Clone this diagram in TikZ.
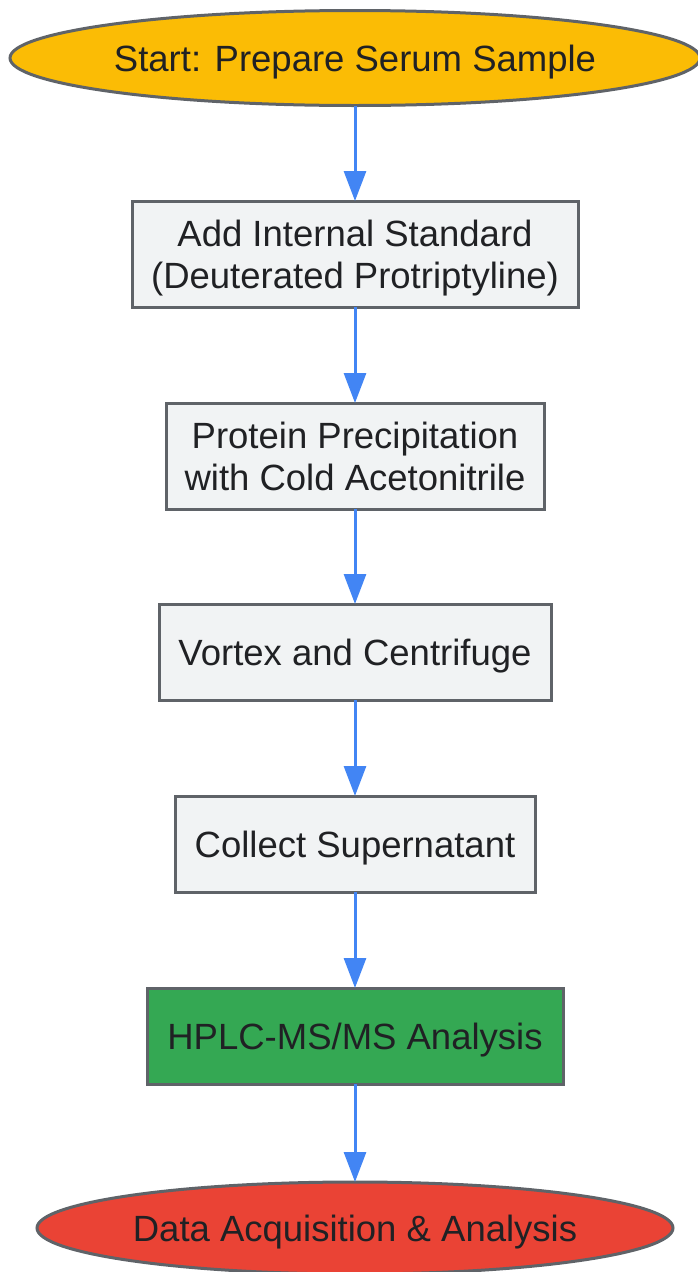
\documentclass[tikz,border=0pt]{standalone}
\usepackage{fontspec}
\setmainfont{Liberation Sans}
\usetikzlibrary{shapes.geometric}
\usetikzlibrary{arrows.meta}
\definecolor{edgegray}{HTML}{5F6368}
\definecolor{stepfill}{HTML}{F1F3F4}
\definecolor{startfill}{HTML}{FBBC05}
\definecolor{hplcfill}{HTML}{34A853}
\definecolor{endfill}{HTML}{EA4335}
\definecolor{flowblue}{HTML}{4285F4}
\definecolor{labelink}{HTML}{202124}
\tikzstyle{stage}=[draw=edgegray, line width=3pt, inner sep=0, outer sep=0,
                   text=labelink, align=center, text depth=0pt,
                   font=\fontsize{36.5pt}{42pt}\selectfont]
\tikzstyle{stepbox}=[stage, rectangle, fill=stepfill]
\tikzstyle{terminal}=[stage, ellipse]
\tikzstyle{flow}=[draw=flowblue, line width=3pt, -{Triangle[length=30pt, width=22pt]}]
\begin{document}
\begin{tikzpicture}[x=1pt, y=-1pt]
        \useasboundingbox (0, 0) rectangle (697, 1272);
        \node[terminal, fill=startfill, minimum width=690pt, minimum height=95pt] (start) at (355, 58) {Start: Prepare Serum Sample};
        \node[stepbox, minimum width=446pt, minimum height=106pt] (addis) at (355, 254) {Add Internal Standard\\(Deuterated Protriptyline)};
        \node[stepbox, minimum width=378pt, minimum height=106pt] (precip) at (355, 456) {Protein Precipitation\\with Cold Acetonitrile};
        \node[stepbox, minimum width=392pt, minimum height=96pt] (vortex) at (355, 652) {Vortex and Centrifuge};
        \node[stepbox, minimum width=360pt, minimum height=96pt] (collect) at (355, 844) {Collect Supernatant};
        \node[stepbox, fill=hplcfill, minimum width=416pt, minimum height=96pt] (hplc) at (355, 1036) {HPLC-MS/MS Analysis};
        \node[terminal, fill=endfill, minimum width=636pt, minimum height=92pt] (data) at (355, 1228) {Data Acquisition \& Analysis};
        \draw[flow] (start) -- (addis);
        \draw[flow] (addis) -- (precip);
        \draw[flow] (precip) -- (vortex);
        \draw[flow] (vortex) -- (collect);
        \draw[flow] (collect) -- (hplc);
        \draw[flow] (hplc) -- (data);
    \end{tikzpicture}
\end{document}
